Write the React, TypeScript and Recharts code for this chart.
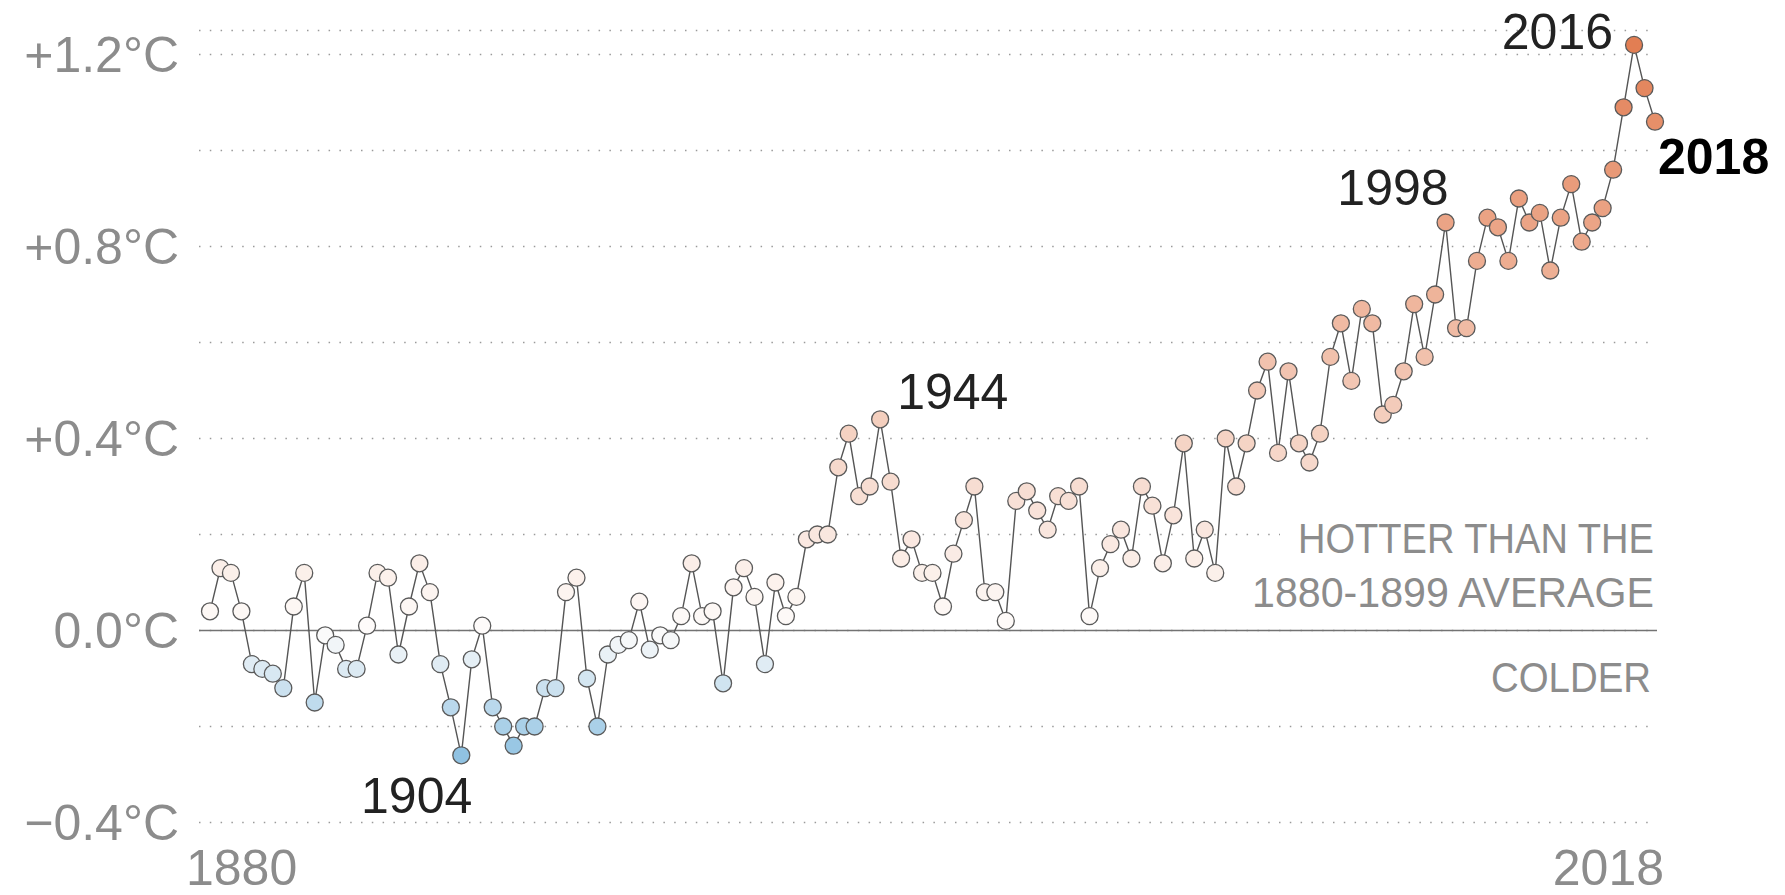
import React from "react";
import { LineChart, Line, XAxis, YAxis, CartesianGrid, ReferenceLine } from "recharts";

const startYear = 1880;
const temps = [
  0.04, 0.13, 0.12, 0.04, -0.07, -0.08, -0.09, -0.12, 0.05, 0.12,
  -0.15, -0.01, -0.03, -0.08, -0.08, 0.01, 0.12, 0.11, -0.05, 0.05,
  0.14, 0.08, -0.07, -0.16, -0.26, -0.06, 0.01, -0.16, -0.2, -0.24,
  -0.2, -0.2, -0.12, -0.12, 0.08, 0.11, -0.1, -0.2, -0.05, -0.03,
  -0.02, 0.06, -0.04, -0.01, -0.02, 0.03, 0.14, 0.03, 0.04, -0.11,
  0.09, 0.13, 0.07, -0.07, 0.1, 0.03, 0.07, 0.19, 0.2, 0.2,
  0.34, 0.41, 0.28, 0.3, 0.44, 0.31, 0.15, 0.19, 0.12, 0.12,
  0.05, 0.16, 0.23, 0.3, 0.08, 0.08, 0.02, 0.27, 0.29, 0.25,
  0.21, 0.28, 0.27, 0.3, 0.03, 0.13, 0.18, 0.21, 0.15, 0.3,
  0.26, 0.14, 0.24, 0.39, 0.15, 0.21, 0.12, 0.4, 0.3, 0.39,
  0.5, 0.56, 0.37, 0.54, 0.39, 0.35, 0.41, 0.57, 0.64, 0.52,
  0.67, 0.64, 0.45, 0.47, 0.54, 0.68, 0.57, 0.7, 0.85, 0.63,
  0.63, 0.77, 0.86, 0.84, 0.77, 0.9, 0.85, 0.87, 0.75, 0.86,
  0.93, 0.81, 0.85, 0.88, 0.96, 1.09, 1.22, 1.13, 1.06,
];

const xTicks = [1880, 2018];
const yGridTicks = [-0.4, -0.2, 0, 0.2, 0.4, 0.6, 0.8, 1.0, 1.2];
const yLabelValues = [-0.4, 0, 0.4, 0.8, 1.2];
const yLabelTexts = ["\u22120.4\u00B0C", "0.0\u00B0C", "+0.4\u00B0C", "+0.8\u00B0C", "+1.2\u00B0C"];

const annotationYears = [1904, 1944, 1998, 2016, 2018];
const annotationStyles: Record<number, { anchor: string; dx: number; dy: number; bold: boolean }> = {
  1904: { anchor: "end", dx: 11, dy: 58, bold: false },
  1944: { anchor: "start", dx: 17, dy: -10, bold: false },
  1998: { anchor: "end", dx: 3, dy: -18, bold: false },
  2016: { anchor: "end", dx: -21, dy: 4, bold: false },
  2018: { anchor: "start", dx: 3, dy: 52, bold: true },
};

const data = temps.map((t, i) => ({ year: startYear + i, temp: t }));

const FONT = "'Liberation Sans', Arial, sans-serif";
const GRAY = "#8c8c8c";

const mix = (a: number[], b: number[], f: number) =>
  `rgb(${a.map((v, i) => Math.round(v + (b[i] - v) * f)).join(",")})`;
const WHITE = [254, 252, 251];
const BLUE = [140, 192, 225];
const ORANGE = [226, 124, 80];
const colorFor = (v: number) =>
  v >= 0 ? mix(WHITE, ORANGE, Math.min(1, v / 1.24)) : mix(WHITE, BLUE, Math.min(1, -v / 0.27));

const renderDot = (props: any) => {
  const { cx, cy, payload, index } = props;
  const ann = annotationStyles[payload.year];
  return (
    <g key={`dot-${index}`}>
      <circle cx={cx} cy={cy} r={8.5} fill={colorFor(payload.temp)} stroke="#5a5a5a" strokeWidth={1.3} />
      {ann && annotationYears.includes(payload.year) ? (
        <text
          x={cx + ann.dx}
          y={cy + ann.dy}
          textAnchor={ann.anchor as any}
          fontFamily={FONT}
          fontSize={50}
          fontWeight={ann.bold ? 700 : 400}
          fill={ann.bold ? "#000" : "#222"}
        >
          {payload.year}
        </text>
      ) : null}
    </g>
  );
};

const YTick = (props: any) => {
  const { x, y, payload } = props;
  const idx = yLabelValues.findIndex((v) => Math.abs(v - payload.value) < 1e-6);
  if (idx < 0) return <g />;
  return (
    <text x={x - 20} y={y + 17} textAnchor="end" fontFamily={FONT} fontSize={50} fill={GRAY}>
      {yLabelTexts[idx]}
    </text>
  );
};

const XTick = (props: any) => {
  const { x, y, payload } = props;
  const first = payload.value === xTicks[0];
  return (
    <text
      x={first ? x - 24 : x + 9}
      y={y + 62}
      textAnchor={first ? "start" : "end"}
      fontFamily={FONT}
      fontSize={50}
      fill={GRAY}
    >
      {payload.value}
    </text>
  );
};

const ZeroLabels = (props: any) => {
  const vb = props.viewBox || {};
  const right = vb.x + vb.width;
  const y = vb.y;
  return (
    <g>
      <rect x={right - 377} y={y - 106} width={380} height={22} fill="#fff" />
      <text x={right - 3} y={y - 77.5} textAnchor="end" fontFamily={FONT} fontSize={43} fill={GRAY}
        textLength={356} lengthAdjust="spacingAndGlyphs">HOTTER THAN THE</text>
      <text x={right - 3} y={y - 23.5} textAnchor="end" fontFamily={FONT} fontSize={43} fill={GRAY}
        textLength={402} lengthAdjust="spacingAndGlyphs">1880-1899 AVERAGE</text>
      <text x={right - 6} y={y + 61.5} textAnchor="end" fontFamily={FONT} fontSize={43} fill={GRAY}
        textLength={160} lengthAdjust="spacingAndGlyphs">COLDER</text>
    </g>
  );
};

export default function App() {
  return (
    <div style={{ position: "absolute", left: 0, top: 0, width: 1785, height: 895, background: "#fff" }}>
      <LineChart
        width={1785}
        height={895}
        data={data}
        margin={{ top: 30.5, right: 128, bottom: 0, left: 0 }}
      >
        <CartesianGrid
          vertical={false}
          stroke="#9a9a9a"
          strokeWidth={1.5}
          strokeDasharray="1.5 9.3"
        />
        <XAxis
          dataKey="year"
          type="number"
          domain={[1880, 2018]}
          ticks={xTicks}
          padding={{ left: 11, right: 2 }}
          axisLine={false}
          tickLine={false}
          tickSize={0}
          tickMargin={0}
          height={72.5}
          tick={<XTick />}
          interval={0}
        />
        <YAxis
          type="number"
          domain={[-0.4, 1.25]}
          ticks={yGridTicks}
          axisLine={false}
          tickLine={false}
          tickSize={0}
          tickMargin={0}
          width={199}
          tick={<YTick />}
          interval={0}
        />
        <ReferenceLine y={0} stroke="#737373" strokeWidth={1.6} label={(p: any) => <ZeroLabels {...p} />} />
        <Line
          type="linear"
          dataKey="temp"
          stroke="#555555"
          strokeWidth={1.4}
          dot={renderDot}
          activeDot={false}
          isAnimationActive={false}
        />
      </LineChart>
    </div>
  );
}
